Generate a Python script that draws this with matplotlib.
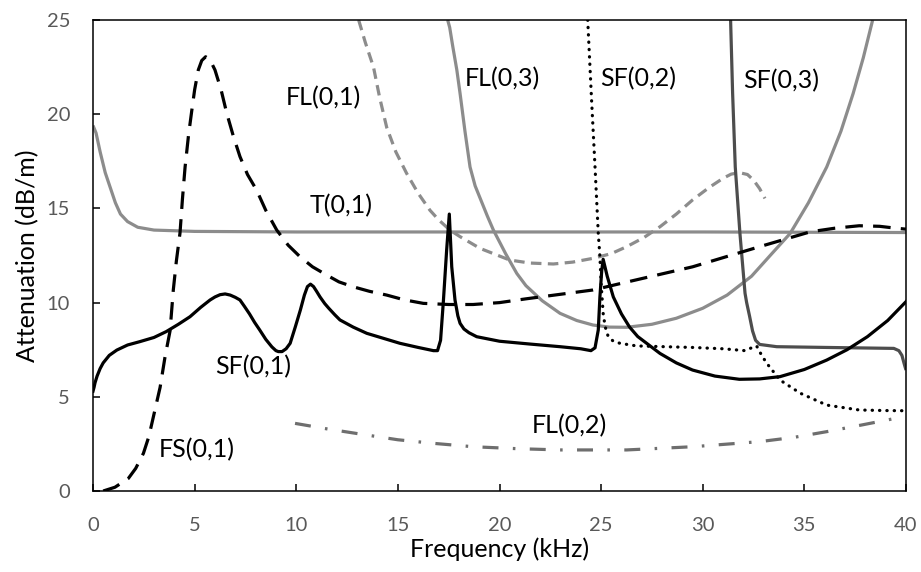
import matplotlib
matplotlib.use("Agg")
import matplotlib.pyplot as plt

plt.rcParams['font.family'] = ['Lato', 'DejaVu Sans']

# Attenuation curves for each guided mode (frequency in kHz, attenuation in dB/m)
t01_f = [0, 0.15, 0.35, 0.6, 0.85, 1.1, 1.35, 1.7, 2.2, 3.0, 5, 10, 20, 30, 40]
t01_a = [19.4, 19.0, 18.0, 16.9, 16.1, 15.3, 14.7, 14.3, 14.0, 13.85, 13.78, 13.75, 13.75, 13.75, 13.72]

fs01_f = [0.5, 1.08, 1.74, 2.1, 2.48, 2.75, 2.97, 3.3, 3.54, 3.79, 3.95, 4.1, 4.28, 4.4, 4.53,
          4.7, 4.86, 5.0, 5.18, 5.35, 5.54, 5.75, 6.0, 6.3, 6.58, 6.9, 7.23, 7.6, 8.05, 8.5,
          9.04, 9.6, 10.18, 10.8, 11.5, 12.1, 12.8, 13.6, 14.45, 15.3, 16.25, 17.5, 18.7, 20.0,
          21.3, 24.6, 25.9, 29.5, 32.8, 35.3, 36.5, 37.7, 38.7, 39.5, 40]
fs01_a = [0, 0.2, 0.67, 1.2, 2.0, 2.9, 3.94, 5.5, 7.1, 8.5, 10.67, 12.2, 13.7, 15.5, 17.2,
          18.9, 20.2, 21.3, 22.35, 22.85, 23.05, 22.9, 22.35, 21.3, 20.05, 18.85, 17.75, 16.8, 15.97, 14.9,
          13.85, 13.05, 12.44, 11.9, 11.46, 11.1, 10.84, 10.6, 10.4, 10.15, 9.96, 9.9, 9.9, 10.0,
          10.2, 10.67, 11.0, 11.9, 12.97, 13.76, 13.95, 14.08, 14.05, 13.95, 13.9]

sf01_f = [0, 0.05, 0.1, 0.2, 0.35, 0.5, 0.8, 1.17, 1.7, 2.31, 3.0, 3.6, 4.2, 4.77, 5.3, 5.76,
          6.0, 6.25, 6.5, 6.75, 7.0, 7.23, 7.45, 7.7, 7.95, 8.2, 8.5, 8.8, 9.0, 9.12, 9.3, 9.5,
          9.7, 9.95, 10.2, 10.4, 10.55, 10.7, 10.85, 11.0, 11.17, 11.4, 11.6, 11.9, 12.15, 12.8,
          13.47, 14.3, 15.1, 16.0, 16.75, 16.95, 17.1, 17.24, 17.4, 17.53, 17.65, 17.81, 17.95,
          18.06, 18.25, 18.5, 18.88, 20.0, 21.5, 22.98, 24.0, 24.5, 24.7, 24.86, 24.94, 25.03,
          25.1, 25.3, 25.6, 26.0, 26.4, 26.8, 27.24, 27.9, 28.7, 29.5, 30.6, 31.8, 32.8, 33.8,
          35.0, 36.1, 37.1, 38.1, 39.1, 40]
sf01_a = [5.3, 5.5, 5.75, 6.1, 6.5, 6.8, 7.2, 7.48, 7.75, 7.93, 8.15, 8.46, 8.85, 9.25, 9.75, 10.14,
          10.3, 10.42, 10.46, 10.4, 10.28, 10.14, 9.8, 9.4, 8.95, 8.55, 8.05, 7.65, 7.45, 7.4, 7.4, 7.55,
          7.84, 8.7, 9.6, 10.4, 10.85, 10.98, 10.85, 10.6, 10.3, 9.95, 9.7, 9.35, 9.08, 8.7,
          8.37, 8.1, 7.84, 7.62, 7.45, 7.45, 8.0, 10.1, 12.8, 14.7, 11.9, 10.14, 9.3,
          8.9, 8.6, 8.4, 8.19, 7.95, 7.8, 7.66, 7.55, 7.45, 7.6, 8.55, 10.3, 11.7,
          12.3, 11.4, 10.3, 9.4, 8.7, 8.2, 7.84, 7.3, 6.8, 6.42, 6.1, 5.93, 5.95, 6.07,
          6.45, 6.95, 7.5, 8.19, 9.05, 10.05]

fl01_f = [13.07, 13.4, 13.8, 14.1, 14.45, 14.9, 15.43, 16.0, 16.58, 17.0, 17.56, 18.06, 19.04,
          20.5, 21.5, 22.65, 23.6, 24.6, 25.5, 26.26, 27.1, 27.9, 28.7, 29.5, 30.3, 31.0, 31.4,
          31.8, 32.2, 32.5, 32.8, 33.06]
fl01_a = [25, 23.8, 22.5, 20.9, 19.3, 18.0, 16.86, 15.8, 14.9, 14.4, 13.85, 13.5, 12.88,
          12.26, 12.1, 12.05, 12.15, 12.35, 12.6, 12.97, 13.45, 14.03, 14.7, 15.45, 16.1, 16.6, 16.82,
          16.9, 16.8, 16.5, 16.05, 15.53]

fl03_f = [17.45, 17.55, 17.7, 17.9, 18.06, 18.3, 18.55, 18.8, 19.1, 19.4, 19.7, 20.3, 20.85,
          21.3, 22.1, 22.98, 23.8, 24.6, 25.4, 26.26, 27.5, 28.7, 30.0, 31.2, 32.4, 33.4, 34.3,
          35.2, 36.1, 36.8, 37.4, 37.9, 38.36]
fl03_a = [25, 24.6, 23.6, 22.35, 21.1, 19.1, 17.2, 16.2, 15.4, 14.6, 13.85, 12.6, 11.55,
          10.9, 10.1, 9.43, 9.05, 8.81, 8.7, 8.69, 8.85, 9.17, 9.7, 10.4, 11.4, 12.6, 13.67,
          15.3, 17.2, 19.1, 21.1, 23.0, 25]

sf02_f = [24.34, 24.53, 24.7, 24.86, 24.94, 25.0, 25.1, 25.2, 25.35, 25.6, 25.93, 26.75, 29.5,
          31.0, 32.08, 32.4, 32.65, 32.9, 33.15, 33.8, 34.8, 36.1, 37.7, 39.0, 40]
sf02_a = [25, 20.75, 17.2, 13.67, 12.44, 11.0, 9.43, 8.72, 8.19, 7.95, 7.84, 7.7, 7.62,
          7.55, 7.45, 7.6, 7.7, 7.2, 6.78, 5.89, 5.19, 4.56, 4.3, 4.27, 4.26]

sf03_f = [31.37, 31.47, 31.6, 31.83, 32.08, 32.16, 32.3, 32.45, 32.6, 32.8, 33.64, 36.1, 39.4,
          39.65, 39.8, 39.9, 40]
sf03_a = [25, 21.1, 17.2, 13.67, 10.5, 10.0, 9.3, 8.5, 8.0, 7.78, 7.66, 7.62, 7.57,
          7.45, 7.2, 6.8, 6.42]

fl02_f = [9.94, 11.5, 13.47, 15.0, 16.75, 18.7, 20.8, 22.98, 26.26, 29.5, 32.8, 34.5, 36.1, 37.8, 39.5]
fl02_a = [3.59, 3.3, 2.97, 2.72, 2.53, 2.35, 2.25, 2.18, 2.18, 2.35, 2.62, 2.85, 3.15, 3.5, 3.86]

# Mode labels placed next to their curves
labels = ['FL(0,1)', 'T(0,1)', 'FL(0,3)', 'SF(0,2)', 'SF(0,3)', 'SF(0,1)', 'FS(0,1)', 'FL(0,2)']
label_x = [9.5, 10.68, 18.3, 24.94, 31.98, 6.0, 3.21, 21.58]
label_y = [20.9, 15.13, 21.87, 21.87, 21.8, 6.58, 2.18, 3.45]

fig = plt.figure(figsize=(9.21, 5.72), dpi=100)
ax = fig.add_axes([0.101, 0.1416, 0.8827, 0.8234])

lw = 2.3
grey = '#8c8c8c'
ax.plot(t01_f, t01_a, color=grey, lw=lw, solid_capstyle='butt')
ax.plot(fl03_f, fl03_a, color=grey, lw=lw, solid_capstyle='butt')
ax.plot(fl01_f, fl01_a, color=grey, lw=lw, linestyle=(0, (3.3, 2.0)))
ax.plot(fl02_f, fl02_a, color='#6e6e6e', lw=lw, linestyle=(0, (5, 4.5, 0.8, 4.5)))
ax.plot(sf03_f, sf03_a, color='#4d4d4d', lw=lw, solid_capstyle='butt')
ax.plot(fs01_f, fs01_a, color='black', lw=lw, linestyle=(0, (5.5, 3.2)))
ax.plot(sf02_f, sf02_a, color='black', lw=lw, linestyle=(0, (0.1, 2.2)), dash_capstyle='round')
ax.plot(sf01_f, sf01_a, color='black', lw=lw)

for txt, x, y in zip(labels, label_x, label_y):
    ax.text(x, y, txt, fontsize=18, ha='left', va='center', color='black')

ax.set_xlim(0, 40)
ax.set_ylim(0, 25)
ax.set_xticks(range(0, 41, 5))
ax.set_yticks(range(0, 26, 5))
ax.tick_params(direction='in', length=5, width=1.1, colors='black', labelcolor='#595959',
               labelsize=14.5)
ax.tick_params(axis='y', pad=16.5)
ax.tick_params(axis='x', pad=19)
for s in ax.spines.values():
    s.set_linewidth(1.1)

ax.set_xlabel('Frequency (kHz)', fontsize=18, labelpad=2)
ax.set_ylabel('Attenuation (dB/m)', fontsize=18, labelpad=5)

fig.savefig('out.png', dpi=100)
